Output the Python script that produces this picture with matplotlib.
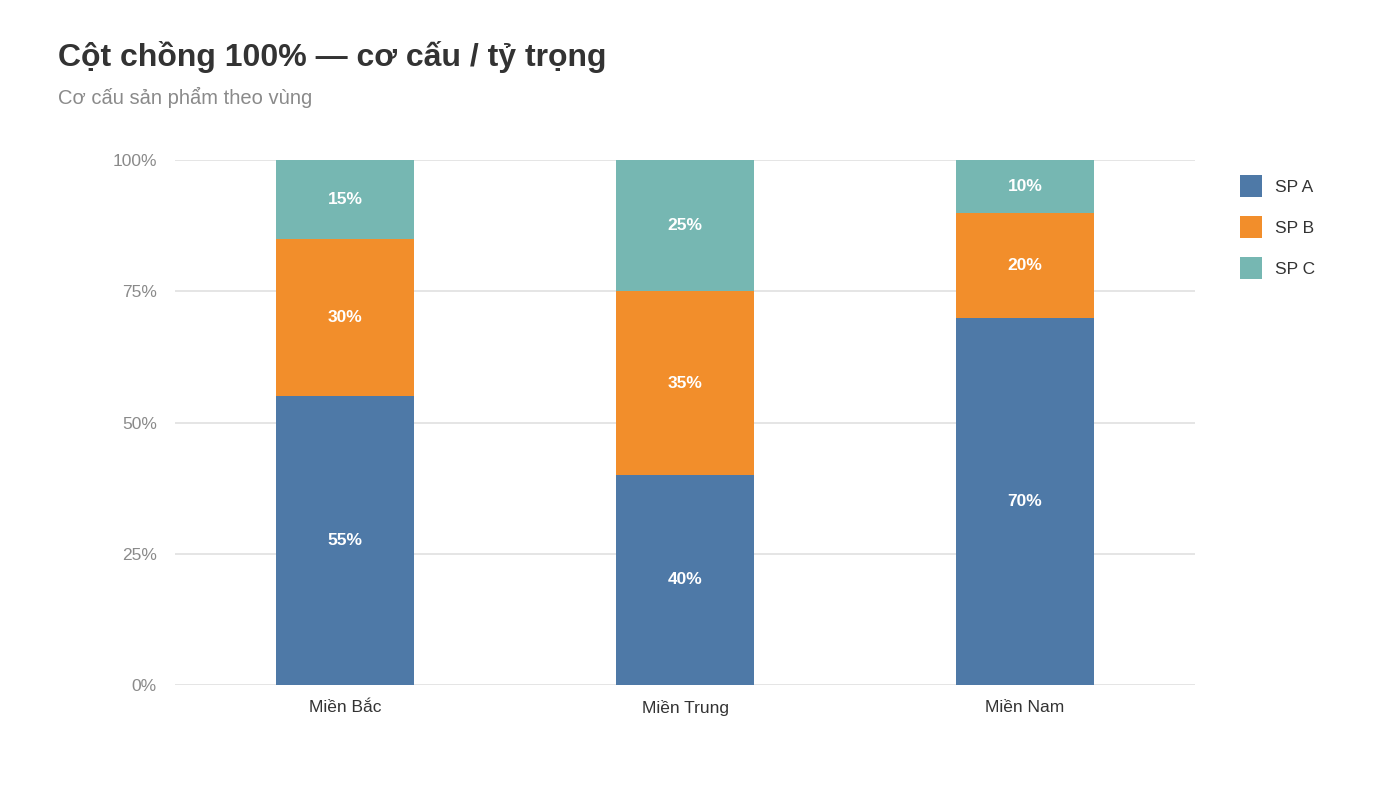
import matplotlib
matplotlib.use("Agg")
import matplotlib.pyplot as plt
import numpy as np

plt.rcParams['font.family'] = ['Liberation Sans', 'DejaVu Sans']

regions = ["Miền Bắc", "Miền Trung", "Miền Nam"]
series_names = ["SP A", "SP B", "SP C"]
sp_a = [55, 40, 70]
sp_b = [30, 35, 20]
sp_c = [15, 25, 10]
colors = ["#4E79A7", "#F28E2B", "#76B7B2"]
yticks = [0, 25, 50, 75, 100]
ytick_labels = ["0%", "25%", "50%", "75%", "100%"]

fig = plt.figure(figsize=(14, 7.87), dpi=100)
ax = fig.add_axes([175/1400, 1-685/787, 1020/1400, 525/787])

x = np.arange(len(regions))
width = 138/340
bottom = np.zeros(len(regions))
handles = []
for name, vals, c in zip(series_names, [sp_a, sp_b, sp_c], colors):
    vals = np.array(vals, dtype=float)
    bars = ax.bar(x, vals, width, bottom=bottom, color=c, label=name, zorder=3)
    handles.append(bars)
    for xi, v, b in zip(x, vals, bottom):
        ax.text(xi, b + v/2, f"{int(v)}%", ha='center', va='center',
                color='white', fontsize=12.5, fontweight='bold', zorder=4)
    bottom += vals

ax.set_xlim(-0.5, len(regions)-0.5)
ax.set_ylim(0, 100)
ax.set_yticks(yticks)
ax.set_yticklabels(ytick_labels)
ax.set_xticks(x)
ax.set_xticklabels(regions)
ax.tick_params(axis='y', length=0, pad=13, labelsize=12.5, labelcolor='#8a8a8a')
ax.tick_params(axis='x', length=0, pad=11, labelsize=12.5, labelcolor='#333333')
ax.grid(axis='y', color='#e3e3e3', linewidth=1.3, zorder=0)
for s in ax.spines.values():
    s.set_visible(False)

leg = ax.legend(handles=handles, labels=series_names, loc='upper left',
                bbox_to_anchor=(1240/1400, 1-175/787), bbox_transform=fig.transFigure,
                frameon=False, fontsize=12.5, handlelength=1.27, handleheight=1.56,
                labelspacing=1.1, handletextpad=0.75, borderaxespad=0, borderpad=0)
for t in leg.get_texts():
    t.set_color('#333333')

fig.text(58/1400, 1-66/787, "Cột chồng 100% — cơ cấu / tỷ trọng", fontsize=23,
         fontweight='bold', color='#333333', ha='left', va='baseline')
fig.text(58/1400, 1-104/787, "Cơ cấu sản phẩm theo vùng", fontsize=14.5,
         color='#8a8a8a', ha='left', va='baseline')

fig.savefig("out.png", dpi=100, facecolor='white')
